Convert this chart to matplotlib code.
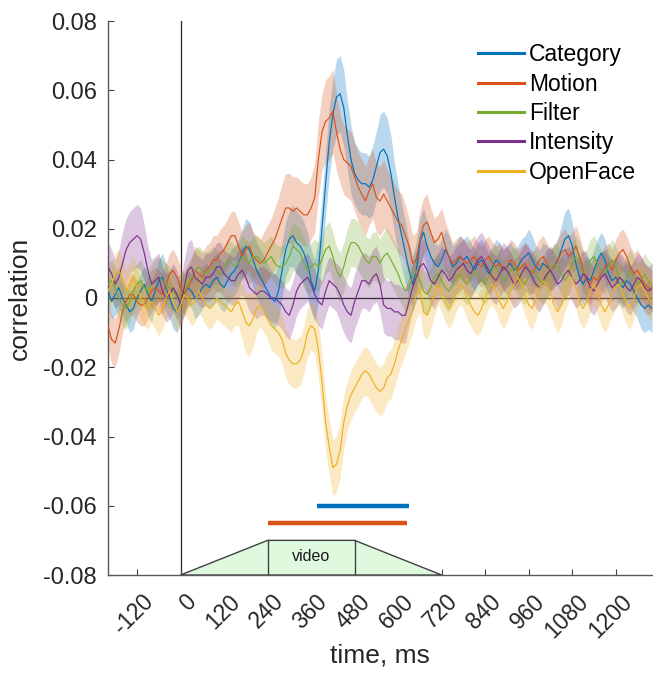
import matplotlib
matplotlib.use("Agg")
import matplotlib.pyplot as plt
import numpy as np
from matplotlib.patches import Polygon
from matplotlib.transforms import ScaledTranslation

plt.rcParams['font.family'] = ['Liberation Sans', 'DejaVu Sans']
plt.rcParams['axes.unicode_minus'] = False

# time axis (ms), 10 ms steps from -200 to 1300
time_ms = list(range(-200, 1301, 10))

series_names = ["Category", "Motion", "Filter", "Intensity", "OpenFace"]
series_colors = ["#0072BD", "#D95319", "#77AC30", "#7E2F8E", "#EDB120"]

category = [
    0.002, -0.001, 0.001, 0.003, 0.000, -0.002, -0.004, -0.003, 0.000, 0.002,
    0.004, 0.001, -0.001, 0.002, 0.005, 0.006, 0.003, 0.000, -0.003, -0.004,
    -0.001, 0.001, 0.003, 0.002, 0.000, 0.001, 0.003, 0.004, 0.003, 0.005,
    0.006, 0.004, 0.003, 0.005, 0.007, 0.008, 0.010, 0.013, 0.015, 0.014,
    0.011, 0.008, 0.006, 0.004, 0.002, 0.000, -0.001, 0.002, 0.008, 0.014,
    0.017, 0.018, 0.016, 0.015, 0.013, 0.010, 0.005, 0.002, 0.008, 0.020,
    0.033, 0.045, 0.053, 0.058, 0.059, 0.055, 0.047, 0.040, 0.036, 0.034,
    0.033, 0.033, 0.032, 0.034, 0.038, 0.042, 0.043, 0.041, 0.036, 0.029,
    0.023, 0.018, 0.013, 0.008, 0.004, 0.008, 0.016, 0.019, 0.015, 0.012,
    0.010, 0.009, 0.011, 0.014, 0.012, 0.009, 0.010, 0.012, 0.011, 0.012,
    0.010, 0.008, 0.010, 0.011, 0.009, 0.007, 0.009, 0.011, 0.010, 0.008,
    0.009, 0.010, 0.008, 0.009, 0.011, 0.012, 0.013, 0.011, 0.009, 0.008,
    0.010, 0.009, 0.008, 0.009, 0.011, 0.014, 0.017, 0.018, 0.015, 0.010,
    0.006, 0.004, 0.006, 0.005, 0.008, 0.011, 0.013, 0.011, 0.007, 0.005,
    0.006, 0.004, 0.003, 0.005, 0.004, 0.002, 0.000, -0.002, -0.003, -0.002,
    -0.003,
]
category_se = [
    0.005, 0.005, 0.006, 0.006, 0.005, 0.005, 0.006, 0.006, 0.005, 0.005,
    0.005, 0.006, 0.006, 0.005, 0.006, 0.007, 0.007, 0.006, 0.006, 0.006,
    0.006, 0.006, 0.005, 0.005, 0.006, 0.006, 0.006, 0.006, 0.006, 0.007,
    0.007, 0.007, 0.007, 0.007, 0.007, 0.007, 0.007, 0.007, 0.008, 0.008,
    0.008, 0.008, 0.008, 0.008, 0.008, 0.008, 0.008, 0.008, 0.008, 0.008,
    0.008, 0.009, 0.009, 0.009, 0.009, 0.009, 0.009, 0.009, 0.009, 0.009,
    0.009, 0.010, 0.010, 0.011, 0.011, 0.011, 0.010, 0.010, 0.009, 0.009,
    0.009, 0.009, 0.009, 0.010, 0.010, 0.011, 0.011, 0.011, 0.011, 0.010,
    0.010, 0.009, 0.009, 0.008, 0.008, 0.008, 0.007, 0.007, 0.007, 0.006,
    0.006, 0.006, 0.006, 0.006, 0.006, 0.006, 0.006, 0.006, 0.006, 0.006,
    0.006, 0.006, 0.006, 0.006, 0.006, 0.006, 0.006, 0.006, 0.006, 0.006,
    0.006, 0.006, 0.006, 0.006, 0.006, 0.006, 0.007, 0.007, 0.006, 0.006,
    0.006, 0.006, 0.006, 0.006, 0.006, 0.007, 0.008, 0.008, 0.007, 0.006,
    0.006, 0.006, 0.006, 0.006, 0.006, 0.006, 0.006, 0.006, 0.006, 0.006,
    0.006, 0.006, 0.006, 0.006, 0.006, 0.006, 0.006, 0.007, 0.007, 0.007,
    0.007,
]

motion = [
    -0.008, -0.012, -0.013, -0.009, -0.004, -0.001, 0.001, 0.001, -0.001, -0.002,
    -0.002, 0.000, 0.002, 0.003, 0.002, 0.001, 0.004, 0.007, 0.008, 0.006,
    0.003, 0.001, 0.003, 0.005, 0.008, 0.007, 0.006, 0.008, 0.009, 0.011,
    0.011, 0.013, 0.014, 0.016, 0.018, 0.018, 0.015, 0.012, 0.014, 0.015,
    0.012, 0.011, 0.010, 0.011, 0.013, 0.015, 0.017, 0.020, 0.023, 0.026,
    0.026, 0.025, 0.026, 0.025, 0.024, 0.024, 0.026, 0.029, 0.040, 0.048,
    0.051, 0.052, 0.054, 0.048, 0.043, 0.040, 0.039, 0.038, 0.035, 0.032,
    0.030, 0.028, 0.031, 0.033, 0.029, 0.028, 0.030, 0.028, 0.026, 0.024,
    0.022, 0.021, 0.018, 0.015, 0.010, 0.011, 0.017, 0.021, 0.022, 0.019,
    0.016, 0.017, 0.019, 0.015, 0.012, 0.010, 0.011, 0.012, 0.011, 0.010,
    0.011, 0.012, 0.010, 0.009, 0.011, 0.012, 0.010, 0.009, 0.010, 0.008,
    0.009, 0.011, 0.010, 0.008, 0.009, 0.010, 0.008, 0.007, 0.009, 0.011,
    0.012, 0.010, 0.008, 0.009, 0.011, 0.013, 0.014, 0.012, 0.013, 0.015,
    0.012, 0.008, 0.005, 0.004, 0.006, 0.005, 0.007, 0.009, 0.010, 0.008,
    0.011, 0.013, 0.014, 0.012, 0.009, 0.007, 0.008, 0.006, 0.004, 0.003,
    0.002,
]
motion_se = [
    0.006, 0.007, 0.007, 0.007, 0.006, 0.006, 0.006, 0.006, 0.006, 0.006,
    0.006, 0.006, 0.006, 0.006, 0.006, 0.006, 0.006, 0.006, 0.006, 0.006,
    0.006, 0.006, 0.006, 0.006, 0.007, 0.007, 0.007, 0.007, 0.007, 0.007,
    0.007, 0.007, 0.007, 0.007, 0.007, 0.007, 0.007, 0.007, 0.007, 0.007,
    0.007, 0.007, 0.007, 0.008, 0.008, 0.008, 0.009, 0.009, 0.010, 0.010,
    0.010, 0.010, 0.009, 0.009, 0.009, 0.009, 0.009, 0.010, 0.011, 0.011,
    0.012, 0.012, 0.012, 0.011, 0.010, 0.010, 0.010, 0.010, 0.010, 0.010,
    0.010, 0.010, 0.010, 0.010, 0.010, 0.010, 0.010, 0.009, 0.009, 0.009,
    0.009, 0.009, 0.009, 0.008, 0.008, 0.008, 0.008, 0.008, 0.008, 0.007,
    0.007, 0.007, 0.007, 0.007, 0.007, 0.006, 0.006, 0.006, 0.006, 0.006,
    0.006, 0.006, 0.006, 0.006, 0.006, 0.006, 0.006, 0.006, 0.006, 0.006,
    0.006, 0.006, 0.006, 0.006, 0.006, 0.006, 0.006, 0.006, 0.006, 0.006,
    0.006, 0.006, 0.006, 0.006, 0.006, 0.006, 0.006, 0.006, 0.006, 0.006,
    0.006, 0.006, 0.006, 0.006, 0.006, 0.006, 0.006, 0.006, 0.006, 0.006,
    0.006, 0.006, 0.006, 0.006, 0.006, 0.006, 0.006, 0.006, 0.006, 0.006,
    0.006,
]

filter_ = [
    0.004, 0.005, 0.003, 0.000, -0.002, -0.003, -0.001, 0.002, 0.004, 0.005,
    0.003, 0.002, 0.004, 0.005, 0.006, 0.005, 0.004, 0.003, 0.002, 0.000,
    0.001, 0.002, 0.004, 0.006, 0.008, 0.009, 0.008, 0.007, 0.008, 0.009,
    0.008, 0.007, 0.009, 0.011, 0.010, 0.009, 0.010, 0.012, 0.011, 0.010,
    0.012, 0.012, 0.011, 0.010, 0.011, 0.012, 0.010, 0.009, 0.009, 0.010,
    0.012, 0.015, 0.014, 0.013, 0.010, 0.008, 0.009, 0.010, 0.009, 0.011,
    0.014, 0.015, 0.012, 0.008, 0.006, 0.009, 0.013, 0.016, 0.016, 0.015,
    0.013, 0.011, 0.010, 0.012, 0.012, 0.010, 0.012, 0.013, 0.011, 0.009,
    0.007, 0.004, 0.002, 0.003, 0.006, 0.008, 0.005, 0.002, 0.001, 0.003,
    0.006, 0.007, 0.005, 0.003, 0.002, 0.004, 0.006, 0.007, 0.005, 0.004,
    0.006, 0.008, 0.007, 0.005, 0.004, 0.006, 0.008, 0.009, 0.007, 0.005,
    0.006, 0.008, 0.009, 0.007, 0.005, 0.004, 0.006, 0.008, 0.007, 0.005,
    0.004, 0.006, 0.008, 0.010, 0.009, 0.007, 0.005, 0.007, 0.010, 0.012,
    0.010, 0.007, 0.008, 0.011, 0.012, 0.010, 0.008, 0.007, 0.009, 0.011,
    0.009, 0.006, 0.004, 0.006, 0.008, 0.006, 0.004, 0.005, 0.007, 0.005,
    0.004,
]
filter_se = [
    0.006, 0.006, 0.006, 0.006, 0.006, 0.006, 0.006, 0.006, 0.006, 0.006,
    0.006, 0.006, 0.006, 0.006, 0.006, 0.006, 0.006, 0.006, 0.006, 0.006,
    0.006, 0.006, 0.006, 0.006, 0.006, 0.006, 0.006, 0.006, 0.006, 0.006,
    0.006, 0.006, 0.006, 0.006, 0.006, 0.006, 0.006, 0.006, 0.006, 0.006,
    0.006, 0.006, 0.006, 0.006, 0.006, 0.006, 0.006, 0.006, 0.006, 0.006,
    0.007, 0.007, 0.007, 0.007, 0.007, 0.007, 0.007, 0.007, 0.007, 0.007,
    0.007, 0.007, 0.007, 0.007, 0.007, 0.007, 0.007, 0.007, 0.007, 0.007,
    0.007, 0.007, 0.007, 0.007, 0.007, 0.007, 0.007, 0.007, 0.007, 0.007,
    0.007, 0.006, 0.006, 0.006, 0.006, 0.006, 0.006, 0.006, 0.006, 0.006,
    0.006, 0.006, 0.006, 0.006, 0.006, 0.006, 0.006, 0.006, 0.006, 0.006,
    0.006, 0.006, 0.006, 0.006, 0.006, 0.006, 0.006, 0.006, 0.006, 0.006,
    0.006, 0.006, 0.006, 0.006, 0.006, 0.006, 0.006, 0.006, 0.006, 0.006,
    0.006, 0.006, 0.006, 0.006, 0.006, 0.006, 0.006, 0.006, 0.006, 0.006,
    0.006, 0.006, 0.006, 0.006, 0.006, 0.006, 0.006, 0.006, 0.006, 0.006,
    0.006, 0.006, 0.006, 0.006, 0.006, 0.006, 0.006, 0.006, 0.006, 0.006,
    0.006,
]

intensity = [
    0.009, 0.007, 0.004, 0.006, 0.010, 0.014, 0.016, 0.017, 0.018, 0.017,
    0.013, 0.008, 0.004, 0.005, 0.006, 0.002, 0.000, 0.001, 0.003, 0.001,
    -0.002, 0.003, 0.008, 0.009, 0.006, 0.005, 0.004, 0.006, 0.006, 0.007,
    0.009, 0.009, 0.007, 0.006, 0.005, 0.005, 0.007, 0.008, 0.006, 0.003,
    0.002, 0.001, 0.002, 0.002, 0.001, 0.000, 0.000, -0.001, -0.002, -0.004,
    -0.005, -0.002, 0.002, 0.004, 0.005, 0.006, 0.004, 0.001, -0.001, -0.002,
    0.002, 0.005, 0.004, 0.003, 0.001, -0.002, -0.004, -0.005, -0.001, 0.002,
    0.005, 0.005, 0.004, 0.006, 0.007, 0.004, -0.002, -0.003, -0.003, -0.004,
    -0.004, -0.005, -0.005, -0.001, 0.003, 0.006, 0.009, 0.010, 0.008, 0.005,
    0.004, 0.006, 0.008, 0.007, 0.005, 0.006, 0.008, 0.009, 0.010, 0.008,
    0.007, 0.009, 0.011, 0.012, 0.010, 0.008, 0.006, 0.005, 0.007, 0.009,
    0.008, 0.006, 0.004, 0.005, 0.007, 0.009, 0.008, 0.006, 0.004, 0.003,
    0.005, 0.007, 0.008, 0.006, 0.004, 0.005, 0.007, 0.008, 0.006, 0.004,
    0.005, 0.007, 0.006, 0.003, 0.002, 0.004, 0.006, 0.007, 0.005, 0.003,
    0.004, 0.006, 0.005, 0.003, 0.002, 0.004, 0.006, 0.005, 0.003, 0.002,
    0.003,
]
intensity_se = [
    0.007, 0.007, 0.007, 0.008, 0.009, 0.009, 0.009, 0.009, 0.009, 0.009,
    0.008, 0.007, 0.007, 0.007, 0.007, 0.007, 0.007, 0.007, 0.007, 0.007,
    0.007, 0.008, 0.008, 0.008, 0.007, 0.007, 0.007, 0.007, 0.007, 0.007,
    0.007, 0.007, 0.007, 0.007, 0.007, 0.007, 0.007, 0.007, 0.007, 0.007,
    0.007, 0.007, 0.007, 0.007, 0.007, 0.007, 0.007, 0.007, 0.007, 0.007,
    0.007, 0.007, 0.007, 0.007, 0.007, 0.007, 0.007, 0.007, 0.007, 0.007,
    0.007, 0.007, 0.007, 0.007, 0.008, 0.008, 0.008, 0.008, 0.008, 0.008,
    0.008, 0.008, 0.008, 0.008, 0.008, 0.008, 0.008, 0.008, 0.008, 0.008,
    0.008, 0.008, 0.008, 0.007, 0.007, 0.007, 0.007, 0.007, 0.007, 0.007,
    0.007, 0.007, 0.007, 0.007, 0.007, 0.007, 0.007, 0.007, 0.007, 0.007,
    0.007, 0.007, 0.007, 0.007, 0.007, 0.007, 0.007, 0.007, 0.007, 0.007,
    0.007, 0.007, 0.007, 0.007, 0.007, 0.007, 0.007, 0.007, 0.007, 0.007,
    0.007, 0.007, 0.007, 0.007, 0.007, 0.007, 0.007, 0.007, 0.007, 0.007,
    0.007, 0.007, 0.007, 0.007, 0.007, 0.007, 0.007, 0.007, 0.007, 0.007,
    0.007, 0.007, 0.007, 0.007, 0.007, 0.007, 0.007, 0.007, 0.007, 0.007,
    0.007,
]

openface = [
    0.002, 0.004, 0.007, 0.008, 0.005, 0.002, 0.004, 0.006, 0.003, 0.000,
    -0.002, -0.003, -0.001, -0.003, -0.005, -0.003, 0.000, 0.002, -0.001, -0.004,
    -0.002, 0.001, 0.000, -0.002, -0.001, 0.002, 0.000, -0.002, -0.003, -0.002,
    0.000, -0.001, -0.002, -0.003, -0.004, -0.002, -0.001, -0.004, -0.007, -0.008,
    -0.006, -0.003, -0.002, -0.004, -0.006, -0.008, -0.009, -0.010, -0.012, -0.016,
    -0.018, -0.019, -0.019, -0.018, -0.015, -0.010, -0.008, -0.009, -0.015, -0.024,
    -0.036, -0.043, -0.049, -0.048, -0.044, -0.036, -0.031, -0.028, -0.026, -0.024,
    -0.022, -0.021, -0.022, -0.024, -0.026, -0.027, -0.026, -0.023, -0.022, -0.019,
    -0.015, -0.012, -0.009, -0.006, -0.003, 0.001, 0.003, -0.004, -0.005, -0.002,
    0.001, 0.004, 0.002, -0.001, -0.003, -0.001, 0.002, 0.004, 0.003, 0.000,
    -0.002, -0.004, -0.005, -0.003, 0.000, 0.003, 0.004, 0.002, -0.001, -0.003,
    -0.001, 0.002, 0.004, 0.006, 0.004, 0.001, -0.002, -0.003, 0.000, 0.003,
    0.005, 0.004, 0.001, -0.002, -0.004, -0.002, 0.002, 0.005, 0.006, 0.003,
    -0.001, -0.003, -0.001, 0.002, 0.004, 0.001, -0.002, -0.004, -0.002, 0.001,
    0.003, 0.004, 0.001, -0.002, -0.003, 0.000, 0.003, 0.004, 0.002, 0.000,
    -0.001,
]
openface_se = [
    0.006, 0.006, 0.006, 0.006, 0.006, 0.006, 0.006, 0.006, 0.006, 0.006,
    0.006, 0.006, 0.006, 0.006, 0.006, 0.006, 0.006, 0.006, 0.006, 0.006,
    0.006, 0.006, 0.006, 0.006, 0.006, 0.006, 0.006, 0.006, 0.006, 0.006,
    0.006, 0.006, 0.006, 0.006, 0.006, 0.006, 0.007, 0.008, 0.009, 0.009,
    0.008, 0.007, 0.006, 0.006, 0.006, 0.007, 0.007, 0.007, 0.007, 0.007,
    0.007, 0.007, 0.007, 0.007, 0.007, 0.007, 0.007, 0.007, 0.008, 0.008,
    0.008, 0.008, 0.008, 0.008, 0.008, 0.008, 0.007, 0.007, 0.007, 0.007,
    0.007, 0.007, 0.007, 0.007, 0.007, 0.007, 0.007, 0.007, 0.007, 0.007,
    0.007, 0.007, 0.007, 0.007, 0.007, 0.007, 0.007, 0.007, 0.007, 0.007,
    0.006, 0.006, 0.006, 0.006, 0.006, 0.006, 0.006, 0.006, 0.006, 0.006,
    0.006, 0.006, 0.006, 0.006, 0.006, 0.006, 0.006, 0.006, 0.006, 0.006,
    0.006, 0.006, 0.006, 0.006, 0.006, 0.006, 0.006, 0.006, 0.006, 0.006,
    0.006, 0.006, 0.006, 0.006, 0.006, 0.006, 0.006, 0.006, 0.006, 0.006,
    0.006, 0.006, 0.006, 0.006, 0.006, 0.006, 0.006, 0.006, 0.006, 0.006,
    0.006, 0.006, 0.006, 0.006, 0.006, 0.006, 0.006, 0.006, 0.006, 0.006,
    0.006,
]

# significance bars
sig_names = ["Category", "Motion"]
sig_start = [375, 240]
sig_end = [630, 625]
sig_level = [-0.060, -0.065]
sig_colors = ["#0072BD", "#D95319"]

# video schematic (time, correlation level)
video_x = [0, 240, 480, 720]
video_y = [-0.08, -0.07, -0.07, -0.08]
video_label = "video"

x_ticks = [-120, 0, 120, 240, 360, 480, 600, 720, 840, 960, 1080, 1200]
y_ticks = [-0.08, -0.06, -0.04, -0.02, 0, 0.02, 0.04, 0.06, 0.08]
y_tick_labels = ["-0.08", "-0.06", "-0.04", "-0.02", "0", "0.02", "0.04", "0.06", "0.08"]

DPI = 100
fig = plt.figure(figsize=(6.53, 6.81), dpi=DPI)
ax = fig.add_axes([108 / 653, 1 - 575 / 681, 544 / 653, 554 / 681])

t = np.array(time_ms, dtype=float)
all_means = [category, motion, filter_, intensity, openface]
all_se = [category_se, motion_se, filter_se, intensity_se, openface_se]

# zero lines
ax.axhline(0, color="#262626", lw=0.9, zorder=1)
ax.axvline(0, color="#262626", lw=0.9, zorder=1)

handles = []
for name, col, m, s in zip(series_names, series_colors, all_means, all_se):
    m = np.array(m)
    s = np.array(s)
    ax.fill_between(t, m - s, m + s, color=col, alpha=0.27, lw=0, zorder=2)
for name, col, m in zip(series_names, series_colors, all_means):
    h, = ax.plot(t, m, color=col, lw=0.85, zorder=3, label=name)
    handles.append(h)

for st, en, lv, col in zip(sig_start, sig_end, sig_level, sig_colors):
    ax.plot([st, en], [lv, lv], color=col, lw=3.2, solid_capstyle="butt", zorder=4)

poly = Polygon(list(zip(video_x, video_y)), closed=True, facecolor="#dff9df",
               edgecolor="#404040", lw=1.0, zorder=4)
ax.add_patch(poly)
ax.plot([video_x[1], video_x[1]], [video_y[0], video_y[1]], color="#404040", lw=1.0, zorder=5)
ax.plot([video_x[2], video_x[2]], [video_y[0], video_y[2]], color="#404040", lw=1.0, zorder=5)
ax.text((video_x[1] + video_x[2]) / 2, -0.0748, video_label, ha="center", va="center",
        fontsize=11.5, color="#1a1a1a", zorder=6)

ax.set_xlim(-200, 1300)
ax.set_ylim(-0.08, 0.08)
ax.set_xticks(x_ticks)
ax.set_xticklabels([])
ax.set_yticks(y_ticks)
ax.set_yticklabels(y_tick_labels, fontsize=17, color="#262626")
ax.tick_params(direction="in", length=4, width=0.8, colors="#404040", pad=8)
ax.tick_params(axis="y", labelcolor="#262626")

# rotated x tick labels, MATLAB-like placement
xl_trans = ax.get_xaxis_transform() + ScaledTranslation(12.5 / DPI, -23 / DPI, fig.dpi_scale_trans)
for v in x_ticks:
    ax.text(v, 0, str(v), transform=xl_trans, rotation=45, ha="right", va="center",
            rotation_mode="anchor", fontsize=16.5, color="#262626")

for sp in ["top", "right"]:
    ax.spines[sp].set_visible(False)
for sp in ["left", "bottom"]:
    ax.spines[sp].set_color("#595959")
    ax.spines[sp].set_linewidth(1.0)

fig.text(380 / 653, 1 - 655 / 681, "time, ms", ha="center", va="center",
         fontsize=19, color="#262626")
fig.text(20 / 653, 1 - 298 / 681, "correlation", ha="center", va="center",
         rotation=90, fontsize=19, color="#262626")

leg = ax.legend(handles=handles, loc="upper left", bbox_to_anchor=(469 / 653, 1 - 34 / 681),
                bbox_transform=fig.transFigure, frameon=False, fontsize=16.5,
                handlelength=2.0, handletextpad=0.22, labelspacing=0.28,
                borderaxespad=0.0, borderpad=0.4)
for lh in leg.get_lines():
    lh.set_linewidth(2.2)

fig.savefig("out.png", dpi=DPI)
